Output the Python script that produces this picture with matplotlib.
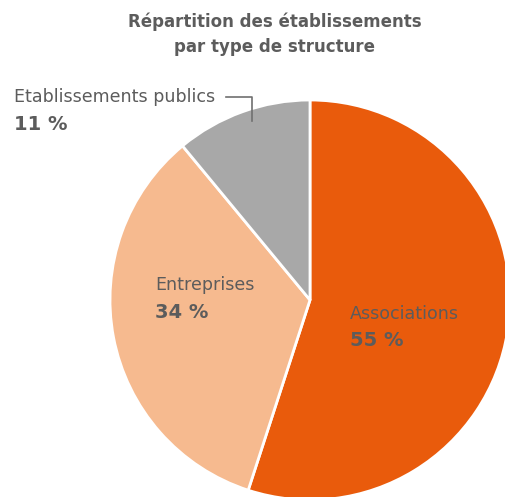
import matplotlib.pyplot as plt

labels = ['Associations', 'Entreprises', 'Etablissements publics']
shares = [55, 34, 11]
colors = ['#E95B0C', '#F6BA8F', '#A8A8A8']

text_color = '#5C5C5C'

fig = plt.figure(figsize=(5.06, 4.97), dpi=100)
ax = fig.add_axes([0, 0, 1, 1])

ax.pie(shares, colors=colors, startangle=90, counterclock=False,
       center=(310, 197), radius=200,
       wedgeprops=dict(edgecolor='white', linewidth=2))
ax.set_xlim(0, 506)
ax.set_ylim(0, 497)
ax.set_aspect('equal')
ax.axis('off')

# title
ax.text(275, 475, 'Répartition des établissements', ha='center', va='center',
        fontsize=12, fontweight='semibold', color=text_color)
ax.text(275, 450, 'par type de structure', ha='center', va='center',
        fontsize=12, fontweight='semibold', color=text_color)

# slice labels: name on one line, share in bold below
label_pos = {
    'Associations': (350, 183),
    'Entreprises': (155, 212),
    'Etablissements publics': (14, 400),
}
for name, val in zip(labels, shares):
    x, y = label_pos[name]
    ax.text(x, y, name, ha='left', va='center', fontsize=12.6, color=text_color)
    ax.text(x, y - 27, f'{val} %', ha='left', va='center', fontsize=14,
            fontweight='bold', color=text_color)

# leader line for the small slice
ax.plot([226, 252, 252], [400, 400, 376], color='#707070', lw=1.2)

fig.savefig('out.png', dpi=100)
